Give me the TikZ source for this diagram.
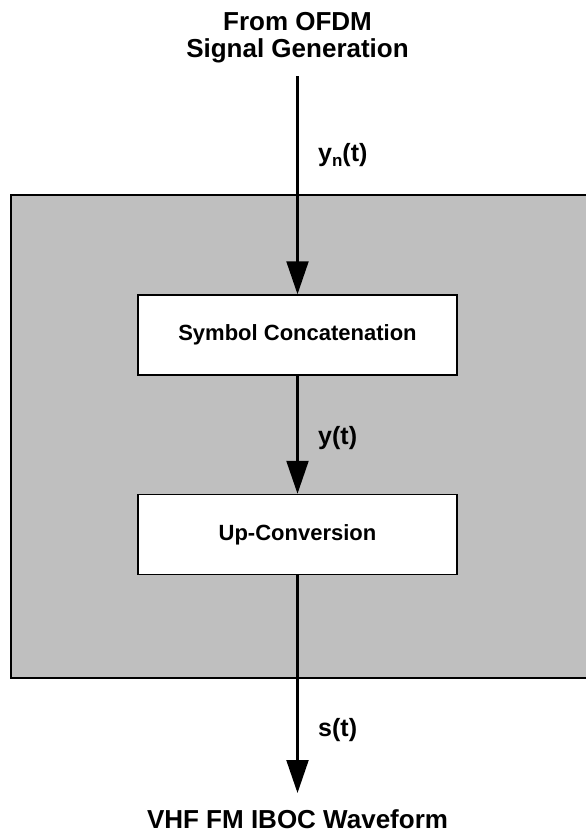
\documentclass[tikz,border=0pt]{standalone}
\usepackage{fontspec}
\setmainfont{Liberation Sans}
\usetikzlibrary{arrows.meta}

\begin{document}
\begin{tikzpicture}[x=1pt, y=-1pt,
	block/.style={draw=black, line width=1.5pt, fill=white, minimum width=319pt, minimum height=80pt, inner sep=0pt, font=\fontsize{22}{24}\selectfont\bfseries},
	title/.style={align=center, inner sep=0pt, font=\fontsize{26}{27}\selectfont\bfseries},
	signal/.style={anchor=base west, inner sep=0pt, font=\fontsize{25}{27}\selectfont\bfseries},
	flow/.style={line width=2.2pt, -{Triangle[length=33pt, width=22pt]}}]
	\useasboundingbox (0,0) rectangle (586,838);

	% draw shaded region (its right side runs off the page)
	\filldraw[fill=black!25, draw=black, line width=2.5pt] (11,195) rectangle (600,678);

	% draw nodes
	\node[title, anchor=north] (source) at (297.5,12) {From OFDM\\Signal Generation};
	\node[block] (concat) at (297.5,335) {Symbol Concatenation};
	\node[block] (upconv) at (297.5,534.5) {Up-Conversion};
	\node[title, anchor=north] (waveform) at (297.5,809) {VHF FM IBOC Waveform};

	% draw signal path
	\draw[flow, shorten <=13pt] (source.south) -- (concat.north);
	\draw[flow] (concat.south) -- (upconv.north);
	\draw[flow, shorten >=16pt] (upconv.south) -- (waveform.north);

	% signal labels next to the path
	\node[signal] (ynlabel) at (318,161) {y\raisebox{-5pt}{\fontsize{17}{17}\selectfont n}(t)};
	\node[signal] (ylabel) at (318,444) {y(t)};
	\node[signal] (slabel) at (318,736) {s(t)};
\end{tikzpicture}
\end{document}
